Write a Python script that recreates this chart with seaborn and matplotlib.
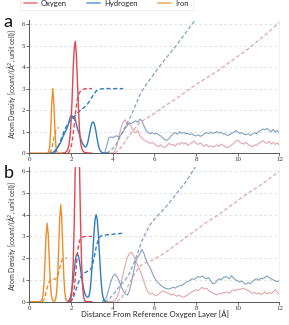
import matplotlib
matplotlib.use('Agg')
import matplotlib.pyplot as plt
import seaborn as sns
from matplotlib.lines import Line2D

sns.set_theme(style='white')
plt.rcParams['font.family'] = ['Lato', 'DejaVu Sans']

# ---------------- panel a ----------------
a_fe_x = [0.0, 0.82, 0.87, 0.92, 0.97, 1.02, 1.07, 1.12, 1.17, 1.22, 1.27, 1.32, 1.37, 1.42, 1.6]
a_fe_y = [0.0, 0.0, 0.0, 0.05, 0.3, 1.08, 2.33, 3.0, 2.33, 1.08, 0.3, 0.05, 0.0, 0.0, 0.0]
a_fe_cum_x = [0.95, 1.0, 1.05, 1.1, 1.15, 1.2, 1.25, 1.3, 1.35, 1.4]
a_fe_cum_y = [0.0, 0.05, 0.15, 0.35, 0.6, 0.85, 1.02, 1.12, 1.17, 1.18]

a_o_x = [1.6, 1.65, 1.7, 1.75, 1.8, 1.85, 1.9, 1.95, 2.0, 2.05, 2.1, 2.15, 2.2, 2.25, 2.3,
         2.35, 2.4, 2.45, 2.5, 2.55, 2.6, 2.65, 2.7, 2.8, 2.9, 3.0]
a_o_y = [0.0, 0.01, 0.02, 0.05, 0.1, 0.2, 0.4, 0.8, 1.5, 2.6, 4.0, 4.9, 5.2, 4.6, 3.4,
         2.1, 1.1, 0.5, 0.25, 0.12, 0.06, 0.03, 0.02, 0.01, 0.0, 0.0]
a_o_cum_x = [1.85, 1.9, 1.95, 2.0, 2.05, 2.1, 2.15, 2.2, 2.25, 2.3, 2.35, 2.4, 2.5, 2.6, 2.7, 2.8, 2.9, 3.0]
a_o_cum_y = [0.0, 0.05, 0.15, 0.3, 0.55, 0.9, 1.35, 1.8, 2.2, 2.5, 2.7, 2.82, 2.93, 2.97, 3.0, 3.0, 3.0, 3.0]

a_h_x = [1.0, 1.1, 1.2, 1.3, 1.4, 1.5, 1.6, 1.7, 1.8, 1.85, 1.9, 1.95, 2.0, 2.05, 2.1, 2.15,
         2.2, 2.25, 2.3, 2.35, 2.4, 2.45, 2.5, 2.55, 2.6, 2.65, 2.7, 2.75, 2.8, 2.85, 2.9,
         2.95, 3.0, 3.05, 3.1, 3.15, 3.2, 3.25, 3.3, 3.35, 3.4, 3.45, 3.5, 3.6, 3.8]
a_h_y = [0.0, 0.02, 0.08, 0.2, 0.35, 0.5, 0.75, 0.95, 1.15, 1.3, 1.45, 1.65, 1.75, 1.72, 1.6, 1.7,
         1.55, 1.35, 1.15, 1.0, 0.85, 0.7, 0.55, 0.45, 0.35, 0.3, 0.28, 0.35, 0.5, 0.75, 1.0,
         1.25, 1.4, 1.45, 1.4, 1.2, 0.95, 0.65, 0.4, 0.22, 0.1, 0.05, 0.02, 0.0, 0.0]
a_h_cum_x = [1.2, 1.3, 1.4, 1.5, 1.6, 1.7, 1.8, 1.9, 2.0, 2.1, 2.2, 2.3, 2.4, 2.5, 2.6, 2.7,
             2.8, 2.9, 3.0, 3.1, 3.2, 3.3, 3.4, 3.6, 4.0, 4.5]
a_h_cum_y = [0.0, 0.15, 0.35, 0.6, 0.85, 1.1, 1.3, 1.45, 1.55, 1.65, 1.75, 1.85, 1.95, 2.05, 2.1, 2.2,
             2.3, 2.45, 2.6, 2.75, 2.88, 2.95, 2.98, 3.0, 3.0, 3.0]

far_x = [3.6, 3.7, 3.8, 3.9, 4.0, 4.1, 4.2, 4.3, 4.4, 4.5, 4.6, 4.7, 4.8, 4.9, 5.0, 5.1, 5.2,
         5.3, 5.4, 5.5, 5.6, 5.7, 5.8, 5.9, 6.0, 6.1, 6.2, 6.3, 6.4, 6.5, 6.6, 6.7, 6.8, 6.9,
         7.0, 7.1, 7.2, 7.3, 7.4, 7.5, 7.6, 7.7, 7.8, 7.9, 8.0, 8.1, 8.2, 8.3, 8.4, 8.5, 8.6,
         8.7, 8.8, 8.9, 9.0, 9.1, 9.2, 9.3, 9.4, 9.5, 9.6, 9.7, 9.8, 9.9, 10.0, 10.1, 10.2,
         10.3, 10.4, 10.5, 10.6, 10.7, 10.8, 10.9, 11.0, 11.1, 11.2, 11.3, 11.4, 11.5, 11.6,
         11.7, 11.8, 11.9, 12.0]
a_h_far_y = [0.0, 0.3, 0.7, 0.75, 0.72, 0.78, 0.8, 0.75, 0.85, 1.0, 1.15, 1.3, 1.4, 1.38, 1.45,
             1.5, 1.42, 1.58, 1.5, 1.25, 1.05, 0.95, 0.9, 0.95, 0.88, 0.92, 0.85, 0.8, 0.7,
             0.62, 0.6, 0.68, 0.8, 0.9, 0.95, 0.88, 1.0, 0.92, 0.96, 0.9, 0.93, 0.86, 0.9,
             0.82, 0.8, 0.85, 0.78, 0.82, 0.9, 0.95, 0.9, 0.98, 0.92, 0.95, 1.0, 0.93, 0.97,
             0.88, 0.9, 0.82, 0.85, 0.92, 0.96, 1.05, 0.98, 0.9, 0.95, 0.88, 0.85, 0.9, 0.82,
             0.88, 0.95, 0.9, 1.0, 1.05, 1.12, 1.08, 1.15, 1.05, 1.0, 1.1, 0.98, 1.05, 0.92]
a_o_far_y = [0.0, 0.0, 0.0, 0.0, 0.0, 0.1, 0.35, 0.8, 1.2, 1.45, 1.55, 1.3, 1.4, 1.2, 1.0,
             0.95, 1.05, 0.8, 0.7, 0.6, 0.55, 0.5, 0.45, 0.5, 0.42, 0.35, 0.3, 0.38, 0.3,
             0.25, 0.35, 0.45, 0.38, 0.4, 0.32, 0.45, 0.4, 0.5, 0.42, 0.48, 0.35, 0.42, 0.5,
             0.55, 0.45, 0.4, 0.48, 0.38, 0.32, 0.4, 0.3, 0.35, 0.28, 0.32, 0.38, 0.3, 0.42,
             0.35, 0.3, 0.25, 0.3, 0.38, 0.45, 0.55, 0.6, 0.5, 0.45, 0.42, 0.5, 0.4, 0.35,
             0.3, 0.38, 0.35, 0.45, 0.5, 0.58, 0.5, 0.45, 0.55, 0.42, 0.5, 0.4, 0.48, 0.35]
a_h_far_cum_x = [3.7, 3.9, 4.1, 4.3, 4.5, 4.7, 4.9, 5.1, 5.3, 5.5, 5.8, 6.1, 6.5, 7.0, 7.5, 8.0]
a_h_far_cum_y = [0.0, 0.12, 0.3, 0.65, 1.05, 1.4, 1.8, 2.25, 2.7, 3.05, 3.45, 3.85, 4.35, 4.95, 5.6, 6.25]
a_o_far_cum_x = [4.1, 4.3, 4.5, 4.7, 4.9, 5.1, 5.3, 5.5, 6.0, 6.5, 7.0, 7.5, 8.0, 8.5, 9.0,
                 9.5, 10.0, 10.5, 11.0, 11.5, 12.0]
a_o_far_cum_y = [0.0, 0.15, 0.4, 0.7, 0.95, 1.2, 1.4, 1.55, 1.85, 2.2, 2.5, 2.85, 3.2, 3.5, 3.8,
                 4.15, 4.5, 4.85, 5.25, 5.65, 6.08]

# ---------------- panel b ----------------
b_fe_x = [0.0, 0.5, 0.55, 0.6, 0.65, 0.7, 0.75, 0.8, 0.85, 0.9, 0.95, 1.0, 1.05, 1.1, 1.15,
          1.2, 1.25, 1.3, 1.35, 1.4, 1.45, 1.5, 1.55, 1.6, 1.65, 1.7, 1.75, 1.8, 1.85, 2.0]
b_fe_y = [0.0, 0.0, 0.015, 0.08, 0.3, 0.9, 1.94, 3.09, 3.6, 3.09, 1.94, 0.9, 0.3, 0.08, 0.02,
          0.02, 0.09, 0.38, 1.11, 2.4, 3.81, 4.45, 3.81, 2.4, 1.11, 0.38, 0.09, 0.02, 0.0, 0.0]
b_fe_cum_x = [0.6, 0.65, 0.7, 0.75, 0.8, 0.85, 0.9, 0.95, 1.0, 1.1, 1.25, 1.3, 1.35, 1.4,
              1.45, 1.5, 1.55, 1.6, 1.7, 1.8]
b_fe_cum_y = [0.0, 0.03, 0.1, 0.25, 0.45, 0.62, 0.8, 0.92, 1.0, 1.03, 1.04, 1.08, 1.15, 1.32,
              1.55, 1.75, 1.88, 1.95, 2.0, 2.0]

b_o_x = [1.9, 1.95, 2.0, 2.05, 2.1, 2.15, 2.2, 2.25, 2.3, 2.35, 2.4, 2.45, 2.5, 2.55, 2.6,
         2.65, 2.7, 2.8, 3.0]
b_o_y = [0.0, 0.03, 0.2, 0.7, 1.8, 3.7, 6.3, 8.6, 9.5, 8.6, 6.3, 3.7, 1.8, 0.7, 0.2,
         0.05, 0.01, 0.0, 0.0]
b_o_cum_x = [1.95, 2.0, 2.05, 2.1, 2.15, 2.2, 2.25, 2.3, 2.35, 2.4, 2.45, 2.5, 2.6, 2.7, 2.9, 3.0]
b_o_cum_y = [0.0, 0.03, 0.1, 0.3, 0.6, 1.1, 1.7, 2.2, 2.55, 2.78, 2.9, 2.95, 2.98, 3.0, 3.0, 3.0]

b_h_x = [1.85, 1.9, 1.95, 2.0, 2.05, 2.1, 2.15, 2.2, 2.25, 2.3, 2.35, 2.4, 2.45, 2.5, 2.55,
         2.6, 2.65, 2.7, 2.75, 2.8, 2.85, 2.9, 2.95, 3.0, 3.05, 3.1, 3.15, 3.2, 3.25, 3.3,
         3.35, 3.4, 3.45, 3.5, 3.55, 3.6, 3.65]
b_h_y = [0.0, 0.05, 0.15, 0.35, 0.65, 1.0, 1.45, 1.9, 2.15, 2.2, 2.1, 1.85, 1.5, 1.15, 0.85,
         0.6, 0.4, 0.28, 0.22, 0.2, 0.25, 0.45, 0.9, 1.6, 2.4, 3.2, 3.8, 4.0, 3.8, 3.2,
         2.35, 1.5, 0.8, 0.35, 0.12, 0.03, 0.0]
b_h_cum_x = [1.9, 2.0, 2.1, 2.2, 2.3, 2.4, 2.5, 2.6, 2.7, 2.8, 2.9, 3.0, 3.1, 3.2, 3.3, 3.4,
             3.5, 4.0, 4.5]
b_h_cum_y = [0.0, 0.05, 0.2, 0.45, 0.75, 1.0, 1.2, 1.3, 1.35, 1.4, 1.45, 1.6, 2.0, 2.5, 2.85,
             3.0, 3.05, 3.1, 3.15]

b_far_x = [3.5] + far_x[1:]
b_h_far_y = [0.0, 0.2, 0.55, 0.9, 1.15, 1.27, 1.15, 0.95, 0.7, 0.5, 0.35, 0.3, 0.5, 0.9, 1.4,
             1.85, 2.05, 2.2, 2.4, 2.2, 1.9, 1.7, 1.55, 1.3, 1.1, 0.95, 0.85, 0.75, 0.68, 0.62,
             0.6, 0.58, 0.62, 0.66, 0.62, 0.7, 0.72, 0.75, 0.8, 0.88, 0.92, 0.98, 1.05, 1.02,
             1.1, 1.15, 1.12, 1.18, 1.1, 1.05, 1.1, 0.95, 0.82, 0.85, 0.95, 1.05, 1.0, 1.1, 1.15,
             1.12, 1.05, 1.2, 1.08, 1.0, 0.95, 0.9, 0.95, 0.85, 0.8, 0.88, 0.82, 0.92, 1.0,
             1.05, 0.98, 1.08, 1.05, 1.12, 1.18, 1.1, 1.05, 1.0, 0.95, 0.92, 0.98, 0.9][:len(b_far_x)]
b_o_far_y = [0.0, 0.0, 0.0, 0.0, 0.0, 0.05, 0.2, 0.45, 0.85, 1.3, 1.7, 2.05, 2.2, 2.27, 2.1,
             1.85, 1.65, 1.45, 1.2, 0.9, 0.6, 0.42, 0.35, 0.38, 0.3, 0.28, 0.35, 0.42, 0.5,
             0.45, 0.4, 0.38, 0.3, 0.35, 0.28, 0.25, 0.3, 0.22, 0.2, 0.25, 0.3, 0.38, 0.45,
             0.5, 0.55, 0.5, 0.6, 0.65, 0.58, 0.62, 0.5, 0.45, 0.4, 0.35, 0.3, 0.38, 0.35,
             0.42, 0.4, 0.45, 0.38, 0.5, 0.55, 0.5, 0.58, 0.55, 0.6, 0.62, 0.55, 0.5, 0.45,
             0.38, 0.42, 0.35, 0.4, 0.32, 0.38, 0.45, 0.35, 0.42, 0.38, 0.45, 0.55, 0.4, 0.35]
b_h_far_cum_x = [3.6, 3.8, 4.0, 4.2, 4.4, 4.6, 4.8, 5.0, 5.2, 5.4, 5.6, 5.8, 6.0, 6.5, 7.0, 7.5, 8.0]
b_h_far_cum_y = [0.0, 0.1, 0.3, 0.55, 0.8, 1.0, 1.3, 1.75, 2.25, 2.8, 3.2, 3.55, 3.8, 4.3, 4.9, 5.5, 6.25]
b_o_far_cum_x = [4.2, 4.4, 4.6, 4.8, 5.0, 5.2, 5.4, 5.6, 6.0, 6.5, 7.0, 7.5, 8.0, 8.5, 9.0,
                 9.5, 10.0, 10.5, 11.0, 11.5, 12.0]
b_o_far_cum_y = [0.0, 0.15, 0.45, 0.85, 1.2, 1.5, 1.7, 1.8, 1.95, 2.25, 2.6, 2.95, 3.3, 3.65,
                 3.95, 4.3, 4.65, 5.0, 5.3, 5.65, 6.0]

red = '#e2474f'
blue = '#2f7cc0'
orange = '#f08c2a'
red_far = '#d98a8e'
blue_far = '#6f93b8'
dash = (0, (3, 1.8))

fig = plt.figure(figsize=(2.89, 3.25), dpi=100)
ax_a = fig.add_axes([0.102, 0.529, 0.865, 0.410])
ax_b = fig.add_axes([0.102, 0.072, 0.865, 0.4145])


def line(ax, x, y, color, ls='-', alpha=1.0, lw=1.0):
    sns.lineplot(x=x, y=y, ax=ax, color=color, linestyle=ls, alpha=alpha, lw=lw,
                 estimator=None, sort=False)


# far-field (drawn first, faded)
line(ax_a, far_x, a_o_far_y, red_far, alpha=0.75, lw=0.8)
line(ax_a, far_x, a_h_far_y, blue_far, alpha=0.85, lw=0.8)
line(ax_a, a_o_far_cum_x, a_o_far_cum_y, red_far, dash, alpha=0.75, lw=0.9)
line(ax_a, a_h_far_cum_x, a_h_far_cum_y, blue_far, dash, alpha=0.85, lw=0.9)
# near-field
line(ax_a, a_fe_x, a_fe_y, orange)
line(ax_a, a_fe_cum_x, a_fe_cum_y, orange, dash)
line(ax_a, a_h_x, a_h_y, blue)
line(ax_a, a_h_cum_x, a_h_cum_y, blue, dash)
line(ax_a, a_o_x, a_o_y, red)
line(ax_a, a_o_cum_x, a_o_cum_y, red, dash)

line(ax_b, b_far_x, b_o_far_y, red_far, alpha=0.75, lw=0.8)
line(ax_b, b_far_x, b_h_far_y, blue_far, alpha=0.85, lw=0.8)
line(ax_b, b_o_far_cum_x, b_o_far_cum_y, red_far, dash, alpha=0.75, lw=0.9)
line(ax_b, b_h_far_cum_x, b_h_far_cum_y, blue_far, dash, alpha=0.85, lw=0.9)
line(ax_b, b_fe_x, b_fe_y, orange)
line(ax_b, b_fe_cum_x, b_fe_cum_y, orange, dash)
line(ax_b, b_h_x, b_h_y, blue)
line(ax_b, b_h_cum_x, b_h_cum_y, blue, dash)
line(ax_b, b_o_x, b_o_y, red)
line(ax_b, b_o_cum_x, b_o_cum_y, red, dash)

for ax, ly in ((ax_a, 0.52), (ax_b, 0.49)):
    ax.set_xlim(0, 12)
    ax.set_ylim(0, 6.2)
    ax.set_xticks(range(0, 13, 2))
    ax.set_yticks(range(0, 7))
    ax.set_xlabel('')
    ax.set_ylabel('Atom Density [count/(Å$^2$, unit cell)]', fontsize=5.0, color='#333333')
    ax.yaxis.set_label_coords(-0.044, ly)
    for y in range(1, 7):
        ax.axhline(y, color='#dddddd', lw=0.6, ls=(0, (3, 3)), zorder=0)
    ax.spines['top'].set_visible(False)
    ax.spines['right'].set_color('#eeeeee')
    ax.spines['right'].set_linewidth(0.6)
    for s in ('left', 'bottom'):
        ax.spines[s].set_color('#555555')
        ax.spines[s].set_linewidth(0.7)
    ax.tick_params(axis='both', which='both', length=2, width=0.5, pad=1,
                   labelsize=5, colors='#333333', bottom=True, left=True)
    for lab in ax.get_xticklabels() + ax.get_yticklabels():
        lab.set_fontfamily('Liberation Serif')

fig.text(0.537, 0.034, 'Distance From Reference Oxygen Layer [Å]', ha='center', va='center',
         fontsize=5.6, color='#222222')
fig.text(0.012, 0.918, 'a', fontsize=13, color='#111111')
fig.text(0.012, 0.452, 'b', fontsize=13, color='#111111')

handles = [Line2D([], [], color=c, lw=1.4, alpha=0.6) for c in (red, blue, orange)]
leg = fig.legend(handles, ['Oxygen', 'Hydrogen', 'Iron'], loc='upper left',
                 bbox_to_anchor=(0.055, 1.025), ncol=3, fontsize=5.5, frameon=True,
                 handlelength=1.7, handletextpad=0.6, columnspacing=2.6, borderpad=0.5)
leg.get_frame().set_edgecolor('#e6e6e6')
leg.get_frame().set_linewidth(0.6)
leg.get_frame().set_boxstyle('square', pad=0)

fig.savefig('out.png', dpi=100)
